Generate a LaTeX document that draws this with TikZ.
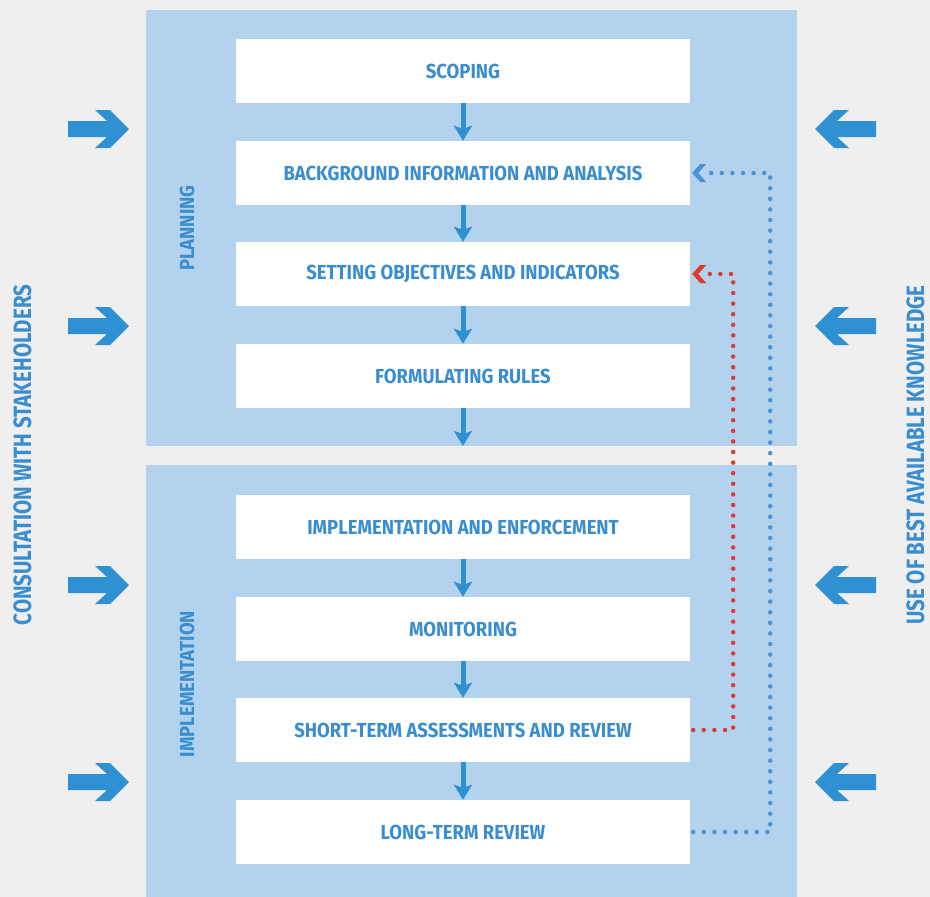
\documentclass[tikz,border=0pt]{standalone}
\usepackage{fontspec}
\setmainfont[FakeStretch=0.91]{Fira Sans}
\newfontfamily\sidefont[FakeStretch=0.82]{Fira Sans}
\usetikzlibrary{arrows.meta}
\definecolor{bgc}{HTML}{EFEFEF}
\definecolor{panel}{HTML}{B3D2EE}
\definecolor{abl}{HTML}{3090D4}
\definecolor{tbl}{HTML}{3A8DCF}
\definecolor{dbl}{HTML}{4A94D6}
\definecolor{dred}{HTML}{E03A2E}
\tikzset{
  boxnode/.style={fill=white, minimum width=454pt, minimum height=64pt, inner sep=0pt,
    text=tbl, font=\fontsize{20.3}{24}\selectfont\bfseries},
  panelnode/.style={fill=panel, inner sep=0pt},
  paneltitle/.style={text=tbl, rotate=90, font=\fontsize{20.3}{24}\selectfont\bfseries, inner sep=0pt},
  sidelabel/.style={text=tbl, rotate=90, anchor=base, text depth=0pt, font=\sidefont\fontsize{25}{30}\selectfont\bfseries, inner sep=0pt},
  flow/.style={draw=abl, line width=5pt, -{Stealth[length=15pt,width=18pt,inset=3pt]}},
  dotline/.style={line width=4.5pt, dash pattern=on 0pt off 10.6pt, line cap=round},
  blockarrow/.style={fill=abl}
}
\begin{document}
\begin{tikzpicture}[x=1pt,y=-1pt]
\fill[bgc] (0,0) rectangle (930,897);
\useasboundingbox (0,0) rectangle (930,897);
% panels
\node[panelnode, minimum width=651pt, minimum height=436pt] (plan) at (471.5,228) {};
\node[panelnode, minimum width=651pt, minimum height=432pt] (impl) at (471.5,681) {};
% boxes
\node[boxnode] (scope) at (463,71) {SCOPING};
\node[boxnode] (bg) at (463,173) {BACKGROUND INFORMATION AND ANALYSIS};
\node[boxnode] (obj) at (463,274) {SETTING OBJECTIVES AND INDICATORS};
\node[boxnode] (rules) at (463,376) {FORMULATING RULES};
\node[boxnode] (enf) at (463,527) {IMPLEMENTATION AND ENFORCEMENT};
\node[boxnode] (mon) at (463,629) {MONITORING};
\node[boxnode] (short) at (463,730) {SHORT-TERM ASSESSMENTS AND REVIEW};
\node[boxnode] (long) at (463,832) {LONG-TERM REVIEW};
\coordinate (planend) at (463,446);
% flow arrows
\draw[flow] (scope) -- (bg);
\draw[flow] (bg) -- (obj);
\draw[flow] (obj) -- (rules);
\draw[flow] (rules) -- (planend);
\draw[flow] (enf) -- (mon);
\draw[flow] (mon) -- (short);
\draw[flow] (short) -- (long);
% side labels
\node[paneltitle] (plab) at (187,228) {PLANNING};
\node[paneltitle] (ilab) at (187,684) {IMPLEMENTATION};
\node[sidelabel] (cons) at (31,455) {CONSULTATION WITH STAKEHOLDERS};
\node[sidelabel] (know) at (924,455) {USE OF BEST AVAILABLE KNOWLEDGE};
% block arrows
\foreach \c in {129,326,585,782}{
  \fill[blockarrow] (68,\c-8) -- (107,\c-8) -- (95,\c-19) -- (110,\c-19) -- (129,\c) -- (110,\c+19) -- (95,\c+19) -- (107,\c+8) -- (68,\c+8) -- cycle;
  \fill[blockarrow] (876,\c-8) -- (837,\c-8) -- (849,\c-19) -- (834,\c-19) -- (815,\c) -- (834,\c+19) -- (849,\c+19) -- (837,\c+8) -- (876,\c+8) -- cycle;
}
% feedback loops
\draw[dotline, dbl] ([xshift=3pt]long.east) -- ++(77,0) |- ([xshift=18pt]bg.east);
\fill[dbl] ([xshift=2pt]bg.east) -- ++(8,-9) -- ++(6,0) -- ++(-8,9) -- ++(8,9) -- ++(-6,0) -- cycle;
\draw[dotline, dred] ([xshift=3pt]short.east) -- ++(40,0) |- ([xshift=18pt]obj.east);
\fill[dred] ([xshift=2pt]obj.east) -- ++(8,-9) -- ++(6,0) -- ++(-8,9) -- ++(8,9) -- ++(-6,0) -- cycle;
\end{tikzpicture}
\end{document}
